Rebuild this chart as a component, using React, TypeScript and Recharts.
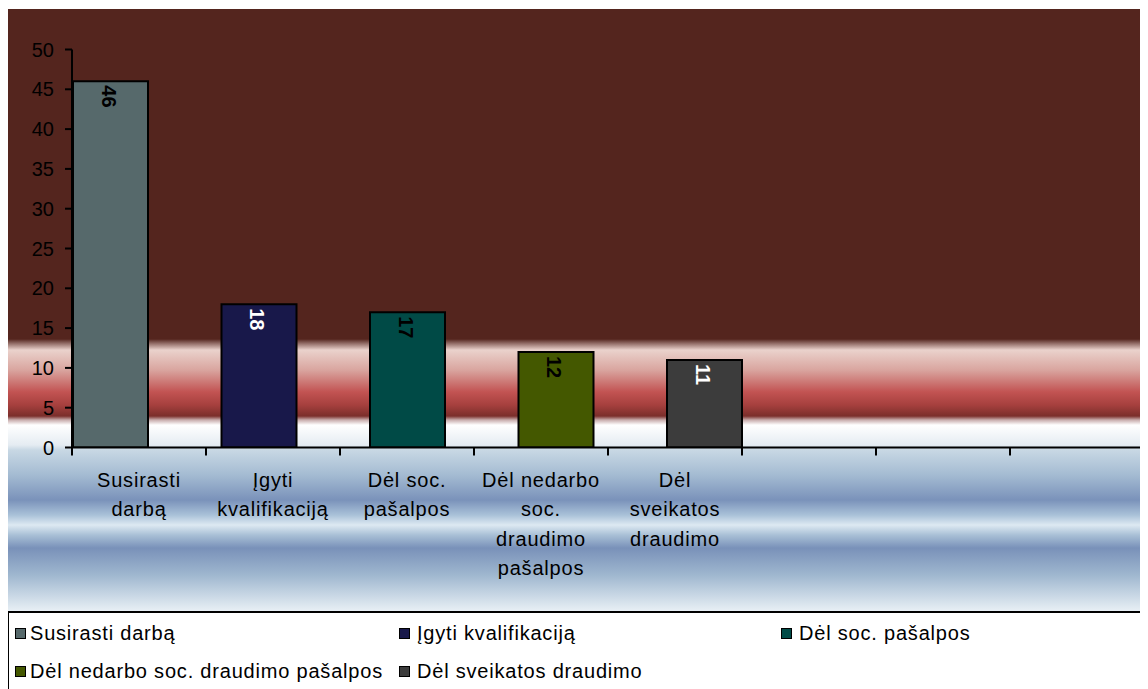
import { BarChart, Bar, XAxis, YAxis, LabelList } from 'recharts'

const seriesNames = [
  'Susirasti darbą',
  'Įgyti kvalifikaciją',
  'Dėl soc. pašalpos',
  'Dėl nedarbo soc. draudimo pašalpos',
  'Dėl sveikatos draudimo',
]
const seriesValues = [46, 18, 17, 12, 11]

// 8 categories on the axis, the last three are empty
const categories = [...seriesNames, '', '', '']
const tickLabels = [
  ['Susirasti', 'darbą'],
  ['Įgyti', 'kvalifikaciją'],
  ['Dėl soc.', 'pašalpos'],
  ['Dėl nedarbo', 'soc.', 'draudimo', 'pašalpos'],
  ['Dėl', 'sveikatos', 'draudimo'],
  [],
  [],
  [],
]
const yTicks = [0, 5, 10, 15, 20, 25, 30, 35, 40, 45, 50]

const seriesColors = ['#56696b', '#18184a', '#004a46', '#445800', '#3c3c3c']
const labelColors = ['#000', '#fff', '#000', '#000', '#fff']

const data = categories.map((name, i) => {
  const row: Record<string, any> = { name }
  seriesValues.forEach((v, j) => {
    row['s' + j] = i === j ? v : null
  })
  return row
})

const FONT = '"Liberation Sans", Arial, sans-serif'

// label in the middle of the band, tick marks on the band edges (Excel style)
function CatTick(props: any) {
  const { x, y, payload, index } = props
  const half = payload?.offset ?? 0
  const lines = tickLabels[index] || []
  return (
    <g>
      <line x1={x - half} x2={x - half} y1={y} y2={y + 8} stroke="#000" strokeWidth={2} />
      {index === categories.length - 1 && (
        <line x1={x + half} x2={x + half} y1={y} y2={y + 8} stroke="#000" strokeWidth={2} />
      )}
      <text textAnchor="middle" fontSize={20} letterSpacing={0.8} fill="#000" fontFamily={FONT}>
        {lines.map((l, i) => (
          <tspan key={i} x={x} y={y + 39 + i * 29.5}>
            {l}
          </tspan>
        ))}
      </text>
    </g>
  )
}

const makeLabel = (j: number) => (props: any) => {
  const { x, y, width, value } = props
  if (value == null) return null
  return (
    <text
      x={0}
      y={0}
      transform={`translate(${x + width / 2 - 2},${y + 4}) rotate(90)`}
      textAnchor="start"
      dominantBaseline="central"
      fontSize={20}
      fontWeight="bold"
      fill={labelColors[j]}
      fontFamily={FONT}
    >
      {value}
    </text>
  )
}

const background = `linear-gradient(to bottom,
  #54251e 0px, #54251e 330px, #8c6660 334px, #ead2cc 341px, #d9a59f 361px,
  #c25352 383px, #a6403e 396px, #7b2e2b 407px, #c9aeae 411px, #ffffff 416px,
  #e5ecf2 436px, #c8d8e4 441px, #a4bbd2 466px, #7a92ba 491px, #a9c1d8 506px,
  #dde9f2 516px, #a9c0d6 526px, #7991b9 539px, #9fb7cf 566px, #e6eef4 601px, #e6eef4 603px)`

const legendPos = [
  { x: 6, row: 0, gap: 16 },
  { x: 390, row: 0, gap: 19 },
  { x: 772, row: 0, gap: 19 },
  { x: 6, row: 1, gap: 16 },
  { x: 390, row: 1, gap: 19 },
]
const rowCenters = [20, 58]

export default function App() {
  return (
    <div style={{ position: 'relative', width: 1140, height: 690, marginTop: 1, fontFamily: FONT }}>
      <style>{'body{overflow:hidden}'}</style>
      <div style={{ position: 'absolute', left: 0, top: 0, width: 1140, height: 603, background }} />
      <div style={{ position: 'absolute', left: 0, top: 0 }}>
        <BarChart
          width={1140}
          height={603}
          data={data}
          margin={{ top: 40.5, right: 4, bottom: 14.5, left: 8 }}
          barCategoryGap={0}
          barGap={-60.5}
        >
          <XAxis
            dataKey="name"
            interval={0}
            tickSize={0}
            tickMargin={0}
            tickLine={false}
            axisLine={{ stroke: '#000', strokeWidth: 2 }}
            tick={(p: any) => <CatTick {...p} />}
            height={150}
          />
          <YAxis
            domain={[0, 50]}
            ticks={yTicks}
            interval={0}
            allowDataOverflow
            width={56}
            tickSize={7}
            tickMargin={11}
            axisLine={{ stroke: '#000', strokeWidth: 2 }}
            tickLine={{ stroke: '#000', strokeWidth: 2 }}
            tick={{ fill: '#000', fontSize: 20, fontFamily: FONT }}
          />
          {seriesNames.map((name, j) => (
            <Bar
              key={name}
              dataKey={'s' + j}
              name={name}
              fill={seriesColors[j]}
              stroke="#000"
              strokeWidth={2}
              barSize={75}
              isAnimationActive={false}
            >
              <LabelList dataKey={'s' + j} content={makeLabel(j)} />
            </Bar>
          ))}
        </BarChart>
      </div>
      <div
        style={{
          position: 'absolute',
          left: -1,
          top: 602,
          width: 1160,
          height: 100,
          background: '#fff',
          borderTop: '2px solid #000',
          borderLeft: '2px solid #000',
        }}
      >
        {seriesNames.map((name, j) => {
          const p = legendPos[j]
          return (
            <div
              key={name}
              style={{
                position: 'absolute',
                left: p.x,
                top: rowCenters[p.row] - 12,
                height: 24,
                display: 'flex',
                alignItems: 'center',
                whiteSpace: 'nowrap',
              }}
            >
              <span
                style={{
                  display: 'inline-block',
                  width: 9,
                  height: 9,
                  background: seriesColors[j],
                  border: '1.5px solid #000',
                  marginRight: p.gap - 12,
                }}
              />
              <span style={{ fontSize: 20, letterSpacing: 0.8, color: '#000' }}>{name}</span>
            </div>
          )
        })}
      </div>
    </div>
  )
}
